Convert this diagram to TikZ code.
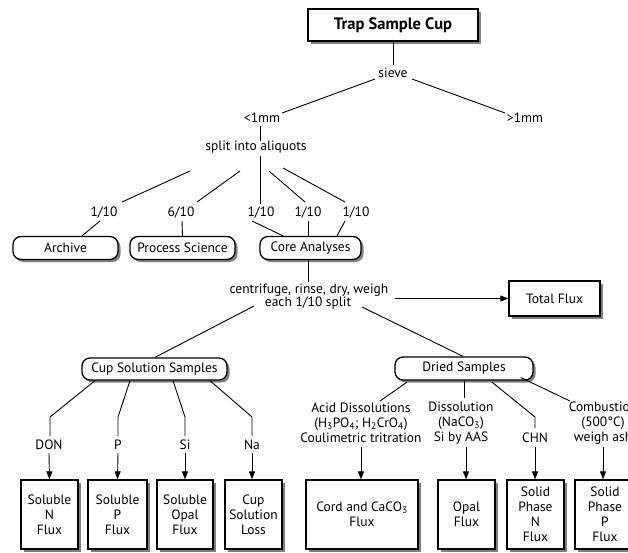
\documentclass[tikz,border=0pt]{standalone}
\usepackage{fontspec}
\setmainfont{PT Sans}
\usetikzlibrary{shadows,calc,arrows.meta}
\newcommand{\fsz}{\fontsize{13.5}{15}\selectfont}
\tikzset{
  lbl/.style={font=\fsz, inner sep=1pt, align=center},
  ln/.style={line width=0.9pt},
  arr/.style={line width=0.9pt, -{Triangle[length=8pt,width=6pt]}},
  shad/.style={drop shadow={shadow xshift=2.5pt, shadow yshift=-2.5pt, fill=black!50, opacity=1}},
  pill/.style={draw, line width=1.3pt, rounded corners=8pt, fill=white, shad, inner sep=0pt, minimum height=23pt, font=\fsz},
  sqbox/.style={draw, line width=1.3pt, fill=white, shad, inner sep=0pt, align=center, font=\fsz},
}
\begin{document}
\begin{tikzpicture}[x=1pt,y=-1pt]
\clip (0,0) rectangle (628,552);
\fill[white] (0,0) rectangle (628,552);
% top
\node[sqbox, minimum width=170pt, minimum height=32pt, font=\fontsize{16.5}{18}\selectfont\bfseries] (trap) at (393,25) {Trap Sample Cup};
\node[lbl] (sieve) at (393,73) {sieve};
\node[lbl] (lt1) at (262,118) {<1mm};
\node[lbl] (gt1) at (525,118) {>1mm};
\node[lbl] (split) at (256,147) {split into aliquots};
\node[lbl] (f1) at (104,213) {1/10};
\node[lbl] (f2) at (181,213) {6/10};
\node[lbl] (f3) at (261,213) {1/10};
\node[lbl] (f4) at (308,213) {1/10};
\node[lbl] (f5) at (356,213) {1/10};
\node[pill, minimum width=105pt] (archive) at (65.5,248) {Archive};
\node[pill, minimum width=105pt] (process) at (182.5,248) {Process Science};
\node[pill, minimum width=101pt] (core) at (310.5,248) {Core Analyses};
\node[lbl] (centr) at (309,290) {centrifuge, rinse, dry, weigh};
\node[lbl] (each) at (308,303) {each 1/10 split};
\node[sqbox, minimum width=91pt, minimum height=35pt] (total) at (554.5,298.5) {Total Flux};
\node[pill, minimum width=145pt, minimum height=22pt] (cup) at (154.5,369) {Cup Solution Samples};
\node[pill, minimum width=138pt] (dried) at (464,368.5) {Dried Samples};
% cup solution branch
\node[lbl] (don) at (49,445) {DON};
\node[lbl] (p) at (118,445) {P};
\node[lbl] (si) at (185,445) {Si};
\node[lbl] (na) at (252,445) {Na};
\node[sqbox, minimum width=57pt, minimum height=69pt] (sn) at (49.5,514.5) {Soluble\\N\\Flux};
\node[sqbox, minimum width=59pt, minimum height=69pt] (sp) at (117.5,514.5) {Soluble\\P\\Flux};
\node[sqbox, minimum width=56pt, minimum height=69pt] (so) at (185,514.5) {Soluble\\Opal\\Flux};
\node[sqbox, minimum width=57pt, minimum height=69pt] (csl) at (253.5,514.5) {Cup\\Solution\\Loss};
% dried branch
\node[lbl] (acid) at (361,423) {Acid Dissolutions\\(H\textsubscript{3}PO\textsubscript{4}; H\textsubscript{2}CrO\textsubscript{4})\\Coulimetric tritration};
\node[lbl] (diss) at (461,423) {Dissolution\\(NaCO\textsubscript{3})\\Si by AAS};
\node[lbl] (chn) at (535,438) {CHN};
\node[lbl] (comb) at (603,423) {Combustion\\(500°C)\\weigh ash};
\node[sqbox, minimum width=112pt, minimum height=69pt] (cord) at (362,514.5) {Cord and CaCO\textsubscript{3}\\Flux};
\node[sqbox, minimum width=57pt, minimum height=69pt] (opal) at (466.5,514.5) {Opal\\Flux};
\node[sqbox, minimum width=57pt, minimum height=69pt] (spn) at (535.5,514.5) {Solid\\Phase\\N\\Flux};
\node[sqbox, minimum width=60pt, minimum height=69pt] (spp) at (605,514.5) {Solid\\Phase\\P\\Flux};
% connectors
\draw[ln] (trap.south) -- ($(sieve)+(0,-8)$);
\draw[ln] ($(sieve)+(-18,6)$) -- ($(lt1)+(20,-5)$);
\draw[ln] ($(sieve)+(19,6)$) -- ($(gt1)+(-20,-5)$);
\draw[ln] ($(lt1)+(-2,8)$) -- ($(split)+(4,-6)$);
\draw[ln] ($(split)+(-66,24)$) -- ($(f1)+(18,-11)$);
\draw[ln] ($(split)+(-16,24)$) -- ($(f2)+(16,-11)$);
\draw[ln] ($(split)+(4,9)$) -- ($(f3)+(-1,-9)$);
\draw[ln] ($(split)+(13,24)$) -- ($(f4)+(-3,-11)$);
\draw[ln] ($(split)+(27,21)$) -- ($(f5)+(-11,-11)$);
\draw[ln] ($(f1)+(-4,8)$) -- ($(archive.north)+(16.5,0)$);
\draw[ln] ($(f2)+(1,8)$) -- (process.north);
\draw[ln] ($(f3)+(-9,8)$) -- ($(core.north)+(-27.5,0)$);
\draw[ln] ($(f4)+(0,8)$) -- ($(core.north)+(-2.5,0)$);
\draw[ln] ($(f5)+(-11,8)$) -- ($(core.north)+(26.5,0)$);
\draw[ln] ($(core.south)+(-2.5,0)$) -- ($(centr)+(-1,-8)$);
\draw[arr] ($(centr)+(86,8.5)$) -- (total.west);
\draw[ln] ($(each)+(-54,3)$) -- ($(cup.north)+(0.5,0)$);
\draw[ln] ($(each)+(54,4)$) -- ($(dried.north)+(-1,0)$);
\draw[ln] ($(cup.south)+(-59.5,0)$) -- ($(don)+(1,-28)$) -- ($(don)+(1,-9)$);
\draw[ln] ($(cup.south)+(-24.5,0)$) -- ($(p)+(0,-28)$) -- ($(p)+(0,-9)$);
\draw[ln] ($(cup.south)+(18.5,0)$) -- ($(si)+(0,-28)$) -- ($(si)+(0,-9)$);
\draw[ln] ($(cup.south)+(55.5,0)$) -- ($(na)+(0,-28)$) -- ($(na)+(0,-9)$);
\draw[arr] ($(don)+(0,8)$) -- (sn.north);
\draw[arr] ($(p)+(0,8)$) -- (sp.north);
\draw[arr] ($(si)+(0,8)$) -- (so.north);
\draw[arr] ($(na)+(0,8)$) -- ($(csl.north)+(-1.5,0)$);
\draw[ln] ($(dried.south)+(-57,1.5)$) -- ($(acid)+(19,-22)$);
\draw[ln] (dried.south) -- ($(diss)+(3,-25)$);
\draw[ln] ($(dried.south)+(28,1.5)$) -- ($(chn)+(0,-21)$) -- ($(chn)+(0,-10)$);
\draw[ln] ($(dried.east)+(-13,9)$) -- ($(comb)+(-33,-22)$);
\draw[arr] ($(acid)+(0,24)$) -- ($(cord.north)+(-1,0)$);
\draw[arr] ($(diss)+(5,24)$) -- ($(opal.north)+(-0.5,0)$);
\draw[arr] ($(chn)+(0,9)$) -- ($(spn.north)+(-0.5,0)$);
\draw[arr] ($(comb)+(0,24)$) -- ($(spp.north)+(-2,0)$);
\end{tikzpicture}
\end{document}
